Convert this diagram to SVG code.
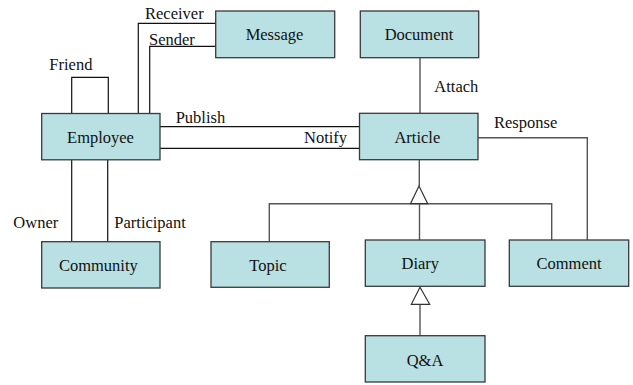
<svg xmlns="http://www.w3.org/2000/svg" width="633" height="385" viewBox="0 0 633 385">
  <style>
    .box { fill: #b9e0e3; stroke: #3a3a3a; stroke-width: 1.3; }
    text { font-family: 'Liberation Serif', 'Times New Roman', Times, 'DejaVu Serif', serif; font-size: 16.5px; fill: #111; }
    .name { text-anchor: middle; }
    .ln { fill: none; stroke: #111; stroke-width: 1.2; }
    .lg { fill: none; stroke: #555; stroke-width: 1.4; }
    .tri { fill: #fff; stroke: #333; stroke-width: 1.2; }
  </style>

  <g id="connectors">
    <!-- Employee self association -->
    <polyline class="ln" points="71.7,113.5 71.7,77.3 108.3,77.3 108.3,113.5"/>
    <!-- Employee to Message -->
    <polyline class="ln" points="138.3,113.5 138.3,23.3 215.5,23.3"/>
    <polyline class="ln" points="149.7,113.5 149.7,46.3 215.5,46.3"/>
    <!-- Employee to Article -->
    <line class="ln" x1="160" y1="126.7" x2="359.5" y2="126.7"/>
    <line class="ln" x1="160" y1="148.3" x2="359.5" y2="148.3"/>
    <!-- Employee to Community -->
    <line class="ln" x1="71.7" y1="160" x2="71.7" y2="241.7"/>
    <line class="ln" x1="107.7" y1="160" x2="107.7" y2="241.7"/>
    <!-- Document to Article -->
    <line class="lg" x1="420" y1="57.7" x2="420" y2="113.3"/>
    <!-- Article to Comment -->
    <polyline class="lg" points="478,137.7 587.3,137.7 587.3,240"/>
    <!-- Generalisation of Article -->
    <line class="lg" x1="419.3" y1="159.7" x2="419.3" y2="186"/>
    <polyline class="lg" points="269.3,241.7 269.3,203.7 551.7,203.7 551.7,240"/>
    <line class="lg" x1="419.5" y1="203.7" x2="419.5" y2="240"/>
    <polygon class="tri" points="419,186 410.5,203.7 427.7,203.7"/>
    <!-- Generalisation of Diary -->
    <line class="lg" x1="420" y1="304.3" x2="420" y2="335.7"/>
    <polygon class="tri" points="420,287.3 411.3,304.3 429.7,304.3"/>

    <text x="145" y="19">Receiver</text>
    <text x="149" y="45">Sender</text>
    <text x="49.3" y="70">Friend</text>
    <text x="175.7" y="122.5">Publish</text>
    <text x="304" y="143.3">Notify</text>
    <text x="434.3" y="91.7">Attach</text>
    <text x="494" y="128.3">Response</text>
    <text x="13.3" y="228.3">Owner</text>
    <text x="114.3" y="228.3">Participant</text>
  </g>

  <g id="employee">
    <rect class="box" x="41.7" y="113.5" width="118.3" height="46.3"/>
    <text class="name" x="100.5" y="142.7">Employee</text>
  </g>
  <g id="message">
    <rect class="box" x="215.7" y="11" width="119" height="46.7"/>
    <text class="name" x="274.5" y="40">Message</text>
  </g>
  <g id="document">
    <rect class="box" x="360.3" y="11" width="118.4" height="46.7"/>
    <text class="name" x="419" y="40">Document</text>
  </g>
  <g id="article">
    <rect class="box" x="359.5" y="113.3" width="118.5" height="46.4"/>
    <text class="name" x="417.3" y="142.5">Article</text>
  </g>
  <g id="community">
    <rect class="box" x="41.7" y="241.7" width="118.3" height="46.3"/>
    <text class="name" x="98.3" y="271">Community</text>
  </g>
  <g id="topic">
    <rect class="box" x="211" y="241.7" width="118.3" height="45.6"/>
    <text class="name" x="268" y="271">Topic</text>
  </g>
  <g id="diary">
    <rect class="box" x="365.3" y="240" width="119.7" height="46.3"/>
    <text class="name" x="420.3" y="269">Diary</text>
  </g>
  <g id="comment">
    <rect class="box" x="509.3" y="240" width="119.4" height="46.3"/>
    <text class="name" x="569" y="269">Comment</text>
  </g>
  <g id="qa">
    <rect class="box" x="365.3" y="335.7" width="119.7" height="46.3"/>
    <text class="name" x="425" y="365.5">Q&amp;A</text>
  </g>
</svg>
